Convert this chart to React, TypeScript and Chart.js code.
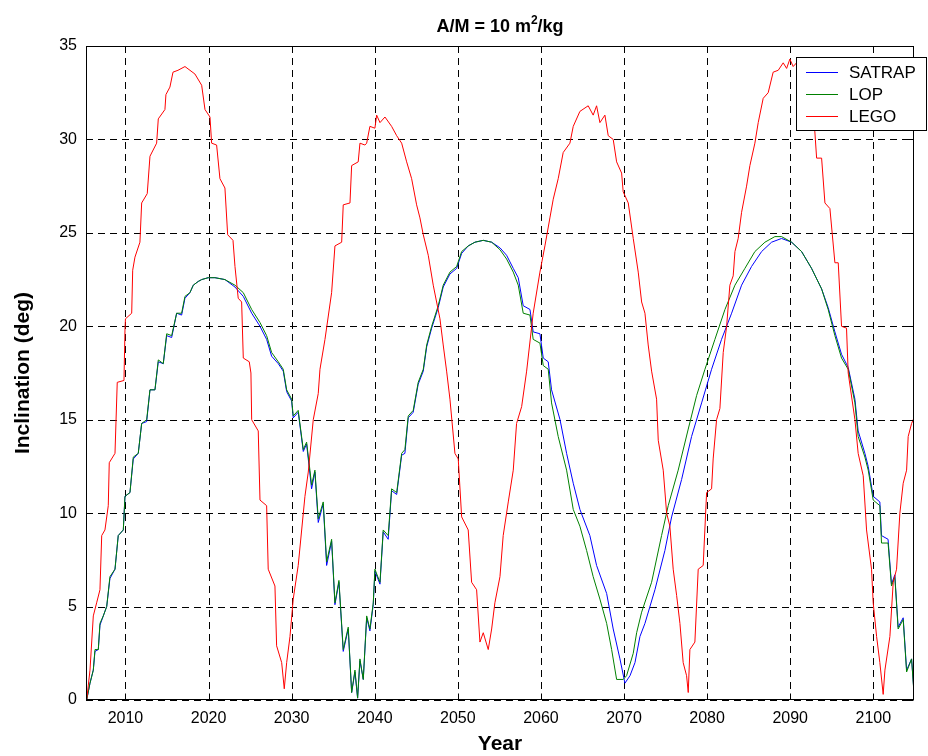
import React, { useEffect, useRef } from "react";
import { Chart, registerables } from "chart.js";

Chart.register(...registerables);

// Axis setup
const xMin = 2005.25;
const xMax = 2104.9;
const yMin = 0;
const yMax = 35;
const xTicks = [2010, 2020, 2030, 2040, 2050, 2060, 2070, 2080, 2090, 2100];
const yTicks = [0, 5, 10, 15, 20, 25, 30, 35];

const seriesNames = ["SATRAP", "LOP", "LEGO"];
const seriesColors = ["#0000ff", "#008000", "#ff0000"];

// SATRAP propagation: inclination (deg) vs year
const satrapYears = [
  2005.33, 2005.73, 2006.13, 2006.33, 2006.73, 2006.93, 2007.33, 2007.74, 2008.13, 2008.74,
  2009.13, 2009.74, 2009.94, 2010.54, 2010.94, 2011.54, 2011.95, 2012.55, 2012.95, 2013.55,
  2013.95, 2014.55, 2014.96, 2015.56, 2016.16, 2016.76, 2017.16, 2017.76, 2018.16, 2018.76,
  2019.17, 2019.96, 2020.77, 2021.97, 2023.18, 2024.18, 2025.19, 2026.19, 2026.99, 2027.59,
  2028.39, 2028.99, 2029.4, 2030.0, 2030.19, 2030.79, 2031.4, 2031.8, 2032.2, 2032.4,
  2032.8, 2033.2, 2033.8, 2034.21, 2034.81, 2035.21, 2035.69, 2036.21, 2036.81, 2037.22,
  2037.62, 2037.94, 2038.22, 2038.62, 2039.03, 2039.42, 2039.82, 2040.02, 2040.63, 2041.02,
  2041.62, 2042.03, 2042.64, 2043.24, 2043.63, 2044.03, 2044.63, 2045.23, 2045.84, 2046.25,
  2046.85, 2047.64, 2048.24, 2049.05, 2049.86, 2050.46, 2051.25, 2052.06, 2053.06, 2054.07,
  2055.07, 2055.87, 2056.67, 2057.27, 2057.87, 2058.68, 2059.07, 2059.88, 2060.28, 2060.88,
  2061.28, 2062.3, 2063.09, 2063.89, 2064.69, 2065.89, 2066.7, 2067.91, 2068.7, 2069.51,
  2070.11, 2070.72, 2071.32, 2071.92, 2072.52, 2073.72, 2074.92, 2075.73, 2076.93, 2078.13,
  2079.34, 2080.54, 2081.74, 2082.95, 2084.15, 2085.35, 2086.56, 2087.76, 2088.96, 2090.17,
  2091.37, 2092.57, 2093.78, 2094.57, 2095.38, 2096.18, 2096.98, 2097.79, 2098.18, 2098.99,
  2099.39, 2099.99, 2100.79, 2100.99, 2101.78, 2102.19, 2102.59, 2102.99, 2103.6, 2104.01,
  2104.61, 2104.92,
];
const satrapValues = [
  0, 0.9, 1.6, 2.6, 2.7, 4.0, 4.5, 5.0, 6.5, 7.0,
  8.8, 9.1, 10.9, 11.1, 12.9, 13.2, 14.8, 14.9, 16.6, 16.6,
  18.1, 18.0, 19.5, 19.4, 20.7, 20.6, 21.5, 21.8, 22.2, 22.4,
  22.5, 22.6, 22.6, 22.5, 22.1, 21.6, 20.7, 20.0, 19.3, 18.4,
  18.0, 17.6, 16.5, 16.0, 15.1, 15.4, 13.3, 13.7, 12.1, 11.3,
  12.2, 9.5, 10.5, 7.2, 8.5, 5.1, 6.3, 2.6, 3.8, 0.4,
  1.5, 0.1, 2.1, 1.1, 4.4, 3.7, 5.1, 6.9, 6.2, 9.0,
  8.6, 11.2, 11.0, 13.1, 13.2, 15.1, 15.4, 16.9, 17.6, 18.9,
  19.9, 21.0, 22.1, 22.8, 23.1, 23.9, 24.3, 24.5, 24.6, 24.5,
  24.2, 23.8, 23.1, 22.6, 21.1, 20.9, 19.7, 19.6, 18.3, 18.1,
  16.6, 15.0, 13.2, 11.6, 10.2, 8.8, 7.2, 5.7, 3.8, 2.2,
  0.9, 1.3, 2.0, 3.4, 4.1, 5.9, 8.0, 9.8, 11.8, 14.1,
  15.9, 17.7, 19.3, 20.7, 22.2, 23.2, 24.0, 24.5, 24.7, 24.5,
  24.0, 23.1, 22.0, 21.0, 19.7, 18.5, 17.8, 16.1, 14.4, 13.2,
  12.5, 10.9, 10.6, 8.8, 8.6, 6.2, 6.7, 3.9, 4.4, 1.6,
  2.2, 0.3,
];

// LOP propagation
const lopYears = [
  2005.33, 2005.73, 2006.13, 2006.33, 2006.73, 2006.93, 2007.33, 2007.74, 2008.13, 2008.74,
  2009.13, 2009.74, 2009.94, 2010.54, 2010.94, 2011.54, 2011.95, 2012.55, 2012.95, 2013.55,
  2013.95, 2014.55, 2014.96, 2015.56, 2016.16, 2016.76, 2017.16, 2017.76, 2018.16, 2018.76,
  2019.17, 2019.96, 2020.77, 2021.97, 2023.18, 2024.18, 2025.19, 2026.19, 2026.99, 2027.59,
  2028.39, 2028.99, 2029.4, 2030.0, 2030.19, 2030.79, 2031.4, 2031.8, 2032.2, 2032.4,
  2032.8, 2033.2, 2033.8, 2034.21, 2034.81, 2035.21, 2035.69, 2036.21, 2036.81, 2037.22,
  2037.62, 2037.94, 2038.22, 2038.62, 2039.03, 2039.42, 2039.82, 2040.02, 2040.63, 2041.02,
  2041.62, 2042.03, 2042.64, 2043.24, 2043.63, 2044.03, 2044.63, 2045.23, 2045.84, 2046.25,
  2046.85, 2047.64, 2048.24, 2049.05, 2049.86, 2050.46, 2051.25, 2052.06, 2053.06, 2054.07,
  2055.07, 2055.87, 2056.67, 2057.27, 2057.87, 2058.68, 2059.07, 2059.88, 2060.28, 2060.88,
  2061.28, 2062.08, 2063.09, 2063.89, 2064.69, 2065.5, 2066.29, 2067.1, 2067.91, 2068.51,
  2069.11, 2069.9, 2070.31, 2071.11, 2071.52, 2072.12, 2073.32, 2074.52, 2075.32, 2076.52,
  2077.73, 2078.74, 2079.74, 2080.94, 2082.15, 2083.35, 2084.55, 2085.75, 2086.96, 2088.16,
  2088.96, 2090.17, 2091.37, 2092.57, 2093.78, 2094.57, 2095.38, 2096.18, 2096.98, 2097.79,
  2098.18, 2098.99, 2099.39, 2099.99, 2100.79, 2100.99, 2101.78, 2102.19, 2102.59, 2102.99,
  2103.6, 2104.01, 2104.61, 2104.92,
];
const lopValues = [
  0, 0.9, 1.6, 2.7, 2.7, 4.1, 4.5, 5.0, 6.6, 7.0,
  8.8, 9.1, 10.9, 11.1, 13.0, 13.2, 14.8, 15.0, 16.6, 16.6,
  18.2, 18.0, 19.6, 19.5, 20.7, 20.7, 21.6, 21.8, 22.2, 22.4,
  22.5, 22.6, 22.6, 22.5, 22.2, 21.8, 20.9, 20.2, 19.5, 18.6,
  18.1, 17.7, 16.6, 16.1, 15.2, 15.5, 13.4, 13.8, 12.3, 11.5,
  12.3, 9.7, 10.6, 7.4, 8.6, 5.2, 6.4, 2.7, 3.9, 0.4,
  1.6, 0.1, 2.2, 1.1, 4.5, 3.8, 5.2, 7.0, 6.3, 9.1,
  8.8, 11.3, 11.1, 13.2, 13.4, 15.2, 15.5, 17.0, 17.7, 19.0,
  20.0, 21.1, 22.2, 22.9, 23.2, 24.0, 24.3, 24.5, 24.6, 24.5,
  24.1, 23.6, 22.9, 22.2, 20.7, 20.6, 19.3, 19.1, 17.9, 17.7,
  15.9, 14.1, 12.3, 10.2, 9.3, 8.0, 6.6, 5.4, 4.1, 2.7,
  1.1, 1.1, 1.3, 2.5, 3.6, 4.7, 6.3, 8.8, 10.4, 12.3,
  14.5, 16.3, 17.7, 19.3, 20.9, 22.2, 23.1, 24.0, 24.5, 24.8,
  24.8, 24.5, 24.0, 23.1, 22.0, 20.9, 19.5, 18.3, 17.7, 15.9,
  14.1, 13.0, 12.3, 10.7, 10.4, 8.4, 8.4, 6.1, 6.6, 3.8,
  4.3, 1.5, 2.2, 0.2,
];

// LEGO propagation
const legoYears = [
  2005.33, 2005.73, 2006.13, 2006.53, 2006.93, 2007.14, 2007.53, 2007.93, 2008.05, 2008.74,
  2009.01, 2009.82, 2009.94, 2010.0, 2010.75, 2010.87, 2011.14, 2011.74, 2011.95, 2012.62,
  2012.95, 2013.75, 2013.95, 2014.75, 2014.87, 2015.35, 2015.72, 2016.32, 2017.16, 2018.36,
  2019.17, 2019.57, 2020.17, 2020.37, 2020.97, 2021.37, 2021.97, 2022.3, 2022.94, 2023.18,
  2023.57, 2023.98, 2024.18, 2024.9, 2025.1, 2025.19, 2025.98, 2026.19, 2026.99, 2027.18,
  2027.99, 2028.19, 2028.8, 2029.11, 2029.4, 2029.8, 2030.19, 2030.79, 2031.6, 2032.0,
  2032.6, 2033.2, 2033.41, 2034.01, 2034.81, 2035.21, 2036.02, 2036.21, 2037.02, 2037.22,
  2038.01, 2038.22, 2038.82, 2039.03, 2039.42, 2040.02, 2040.23, 2040.63, 2041.23, 2042.03,
  2042.64, 2043.24, 2043.84, 2044.44, 2045.04, 2045.44, 2045.84, 2046.44, 2047.04, 2047.85,
  2048.24, 2048.65, 2049.05, 2049.65, 2050.05, 2050.46, 2051.25, 2051.66, 2052.26, 2052.66,
  2053.06, 2053.66, 2054.07, 2054.46, 2055.07, 2055.46, 2056.07, 2056.67, 2057.07, 2057.68,
  2058.28, 2059.07, 2059.88, 2060.48, 2061.08, 2061.48, 2062.08, 2062.68, 2063.49, 2063.89,
  2064.69, 2065.69, 2066.29, 2066.7, 2067.1, 2067.7, 2068.1, 2068.7, 2069.11, 2069.71,
  2069.9, 2070.51, 2071.11, 2071.71, 2072.12, 2072.52, 2072.91, 2073.32, 2073.92, 2074.12,
  2074.72, 2075.13, 2075.52, 2075.92, 2076.33, 2076.73, 2077.12, 2077.53, 2077.73, 2077.93,
  2078.53, 2078.93, 2079.53, 2079.94, 2080.54, 2080.73, 2081.14, 2081.54, 2081.94, 2082.35,
  2082.74, 2083.14, 2083.35, 2083.74, 2084.15, 2084.75, 2085.15, 2085.75, 2086.15, 2086.75,
  2087.35, 2087.95, 2088.56, 2089.16, 2089.57, 2089.96, 2090.36, 2091.17, 2091.89, 2092.49,
  2092.97, 2093.18, 2093.78, 2094.18, 2094.78, 2095.38, 2095.78, 2096.18, 2096.78, 2096.98,
  2097.79, 2098.18, 2098.79, 2099.19, 2099.79, 2099.99, 2100.4, 2100.79, 2101.19, 2101.4,
  2102.0, 2102.4, 2102.8, 2103.2, 2103.6, 2104.01, 2104.2, 2104.61, 2105.0,
];
const legoValues = [
  0, 1.6, 4.5, 5.2, 5.9, 8.8, 9.1, 10.4, 12.7, 13.2,
  17.0, 17.1, 19.8, 20.4, 20.7, 23.0, 23.7, 24.5, 26.6, 27.1,
  29.1, 29.8, 31.1, 31.6, 32.4, 32.8, 33.6, 33.7, 33.9, 33.5,
  32.9, 31.6, 31.2, 29.8, 29.7, 27.9, 27.4, 24.9, 24.6, 23.2,
  21.5, 21.3, 18.3, 18.1, 17.5, 15.0, 14.4, 10.7, 10.4, 7.0,
  6.1, 2.9, 2.0, 0.6, 2.0, 3.4, 5.4, 7.2, 10.9, 12.2,
  15.0, 16.4, 17.7, 19.3, 21.8, 24.3, 24.5, 26.5, 26.6, 28.6,
  28.8, 29.8, 29.7, 29.8, 30.7, 30.6, 31.3, 30.9, 31.2, 30.7,
  30.2, 29.8, 28.8, 27.9, 26.5, 25.8, 24.9, 23.8, 22.2, 20.4,
  19.0, 17.6, 16.1, 13.2, 12.9, 9.8, 9.1, 6.3, 5.9, 3.1,
  3.6, 2.7, 3.8, 5.2, 6.6, 8.8, 10.6, 12.3, 14.8, 15.7,
  17.6, 20.7, 22.9, 24.3, 25.8, 26.8, 27.9, 29.3, 29.8, 30.7,
  31.5, 31.8, 31.3, 31.8, 30.9, 31.3, 30.2, 30.0, 28.8, 28.2,
  27.2, 26.6, 24.7, 22.9, 21.3, 20.7, 19.0, 17.6, 16.1, 13.9,
  12.3, 10.0, 9.3, 7.0, 5.6, 4.1, 2.0, 1.3, 0.4, 2.7,
  3.1, 7.0, 7.2, 11.1, 11.3, 12.9, 15.0, 15.6, 18.6, 20.0,
  22.2, 22.7, 24.0, 24.7, 26.1, 27.5, 28.6, 29.8, 30.9, 32.2,
  32.5, 33.6, 33.7, 34.1, 33.8, 34.3, 33.9, 34.3, 33.0, 32.0,
  30.4, 29.0, 29.0, 26.6, 26.3, 23.4, 23.4, 20.0, 19.9, 17.5,
  15.0, 13.2, 12.0, 9.1, 7.0, 5.2, 3.4, 2.0, 0.3, 1.6,
  3.4, 6.3, 7.0, 10.0, 11.6, 12.3, 14.1, 14.8, 15.2,
];

const FONT = "'Liberation Sans', Arial, Helvetica, sans-serif";

const toPoints = (xs: number[], ys: number[]) => xs.map((x, i) => ({ x, y: ys[i] }));

// Dashed grid, boxed axes with inward ticks, legend, title and axis labels
const decorations = {
  id: "decorations",
  beforeDatasetsDraw(chart: any) {
    const { ctx, chartArea: a, scales } = chart;
    ctx.save();
    ctx.strokeStyle = "#000";
    ctx.lineWidth = 1;
    ctx.setLineDash([7, 5]);
    for (const v of xTicks) {
      const px = Math.round(scales.x.getPixelForValue(v)) + 0.5;
      ctx.beginPath();
      ctx.moveTo(px, a.top);
      ctx.lineTo(px, a.bottom);
      ctx.stroke();
    }
    for (const v of yTicks) {
      const py = Math.round(scales.y.getPixelForValue(v)) + 0.5;
      ctx.beginPath();
      ctx.moveTo(a.left, py);
      ctx.lineTo(a.right, py);
      ctx.stroke();
    }
    ctx.restore();
  },
  afterDatasetsDraw(chart: any) {
    const { ctx, chartArea: a, scales } = chart;
    ctx.save();
    ctx.strokeStyle = "#000";
    ctx.lineWidth = 1;
    ctx.setLineDash([]);
    const L = Math.round(a.left) + 0.5;
    const R = Math.round(a.right) - 0.5;
    const T = Math.round(a.top) + 0.5;
    const B = Math.round(a.bottom) - 0.5;
    ctx.strokeRect(L, T, R - L, B - T);
    const tl = 6;
    ctx.beginPath();
    for (const v of xTicks) {
      const px = Math.round(scales.x.getPixelForValue(v)) + 0.5;
      ctx.moveTo(px, B);
      ctx.lineTo(px, B - tl);
      ctx.moveTo(px, T);
      ctx.lineTo(px, T + tl);
    }
    for (const v of yTicks) {
      const py = Math.round(scales.y.getPixelForValue(v)) + 0.5;
      ctx.moveTo(L, py);
      ctx.lineTo(L + tl, py);
      ctx.moveTo(R, py);
      ctx.lineTo(R - tl, py);
    }
    ctx.stroke();

    // Legend box
    const lx = 796.5;
    const ly = 57.5;
    const lw = 130;
    const lh = 73;
    ctx.fillStyle = "#fff";
    ctx.fillRect(lx, ly, lw, lh);
    ctx.strokeStyle = "#000";
    ctx.lineWidth = 1;
    ctx.strokeRect(lx, ly, lw, lh);
    ctx.font = `17px ${FONT}`;
    ctx.textBaseline = "middle";
    ctx.textAlign = "left";
    const rows = [72, 94, 116];
    seriesNames.forEach((name, i) => {
      ctx.strokeStyle = seriesColors[i];
      ctx.beginPath();
      ctx.moveTo(806, rows[i] + 0.5);
      ctx.lineTo(838, rows[i] + 0.5);
      ctx.stroke();
      ctx.fillStyle = "#000";
      ctx.fillText(name, 849, rows[i] + 1);
    });

    // Title with superscript
    const cx = (a.left + a.right) / 2;
    const base = 32;
    const big = `bold 18px ${FONT}`;
    const small = `bold 12px ${FONT}`;
    const p1 = "A/M = 10 m";
    const p2 = "2";
    const p3 = "/kg";
    ctx.font = big;
    const w1 = ctx.measureText(p1).width;
    const w3 = ctx.measureText(p3).width;
    ctx.font = small;
    const w2 = ctx.measureText(p2).width;
    let x0 = cx - (w1 + w2 + w3) / 2;
    ctx.fillStyle = "#000";
    ctx.textBaseline = "alphabetic";
    ctx.font = big;
    ctx.fillText(p1, x0, base);
    x0 += w1;
    ctx.font = small;
    ctx.fillText(p2, x0, base - 8);
    x0 += w2;
    ctx.font = big;
    ctx.fillText(p3, x0, base);

    // Axis titles
    ctx.font = `bold 21px ${FONT}`;
    ctx.textAlign = "center";
    ctx.fillText("Year", cx, 750);
    ctx.save();
    ctx.translate(29, (a.top + a.bottom) / 2);
    ctx.rotate(-Math.PI / 2);
    ctx.fillText("Inclination (deg)", 0, 0);
    ctx.restore();
    ctx.restore();
  },
};

export default function App() {
  const canvasRef = useRef<HTMLCanvasElement | null>(null);

  useEffect(() => {
    document.body.style.margin = "0";
    const canvas = canvasRef.current;
    if (!canvas) return;
    const common = { pointRadius: 0, borderWidth: 1, tension: 0, fill: false };
    const chart = new Chart(canvas, {
      type: "line",
      data: {
        datasets: [
          { label: seriesNames[0], data: toPoints(satrapYears, satrapValues), borderColor: seriesColors[0], order: 3, ...common },
          { label: seriesNames[1], data: toPoints(lopYears, lopValues), borderColor: seriesColors[1], order: 2, ...common },
          { label: seriesNames[2], data: toPoints(legoYears, legoValues), borderColor: seriesColors[2], order: 1, ...common },
        ],
      },
      options: {
        responsive: false,
        animation: false,
        devicePixelRatio: 1,
        layout: { padding: { top: 46, right: 14, left: 0, bottom: 0 } },
        plugins: { legend: { display: false }, tooltip: { enabled: false }, title: { display: false } },
        scales: {
          x: {
            type: "linear",
            min: xMin,
            max: xMax,
            grid: { display: false, drawTicks: false },
            border: { display: false },
            afterFit: (s: any) => { s.height = 56; },
            afterBuildTicks: (s: any) => { s.ticks = xTicks.map((v) => ({ value: v })); },
            ticks: {
              autoSkip: false,
              maxRotation: 0,
              padding: 9,
              color: "#000",
              font: { family: FONT, size: 16 },
              callback: (v: any) => String(v),
            },
          },
          y: {
            type: "linear",
            min: yMin,
            max: yMax,
            grid: { display: false, drawTicks: false },
            border: { display: false },
            afterFit: (s: any) => { s.width = 86; },
            afterBuildTicks: (s: any) => { s.ticks = yTicks.map((v) => ({ value: v })); },
            ticks: {
              padding: 9,
              color: "#000",
              font: { family: FONT, size: 16 },
              callback: (v: any) => String(v),
            },
          },
        },
      },
      plugins: [decorations],
    });
    return () => chart.destroy();
  }, []);

  return (
    <div style={{ width: 928, height: 756, background: "#fff" }}>
      <canvas ref={canvasRef} width={928} height={756} style={{ display: "block" }} />
    </div>
  );
}
